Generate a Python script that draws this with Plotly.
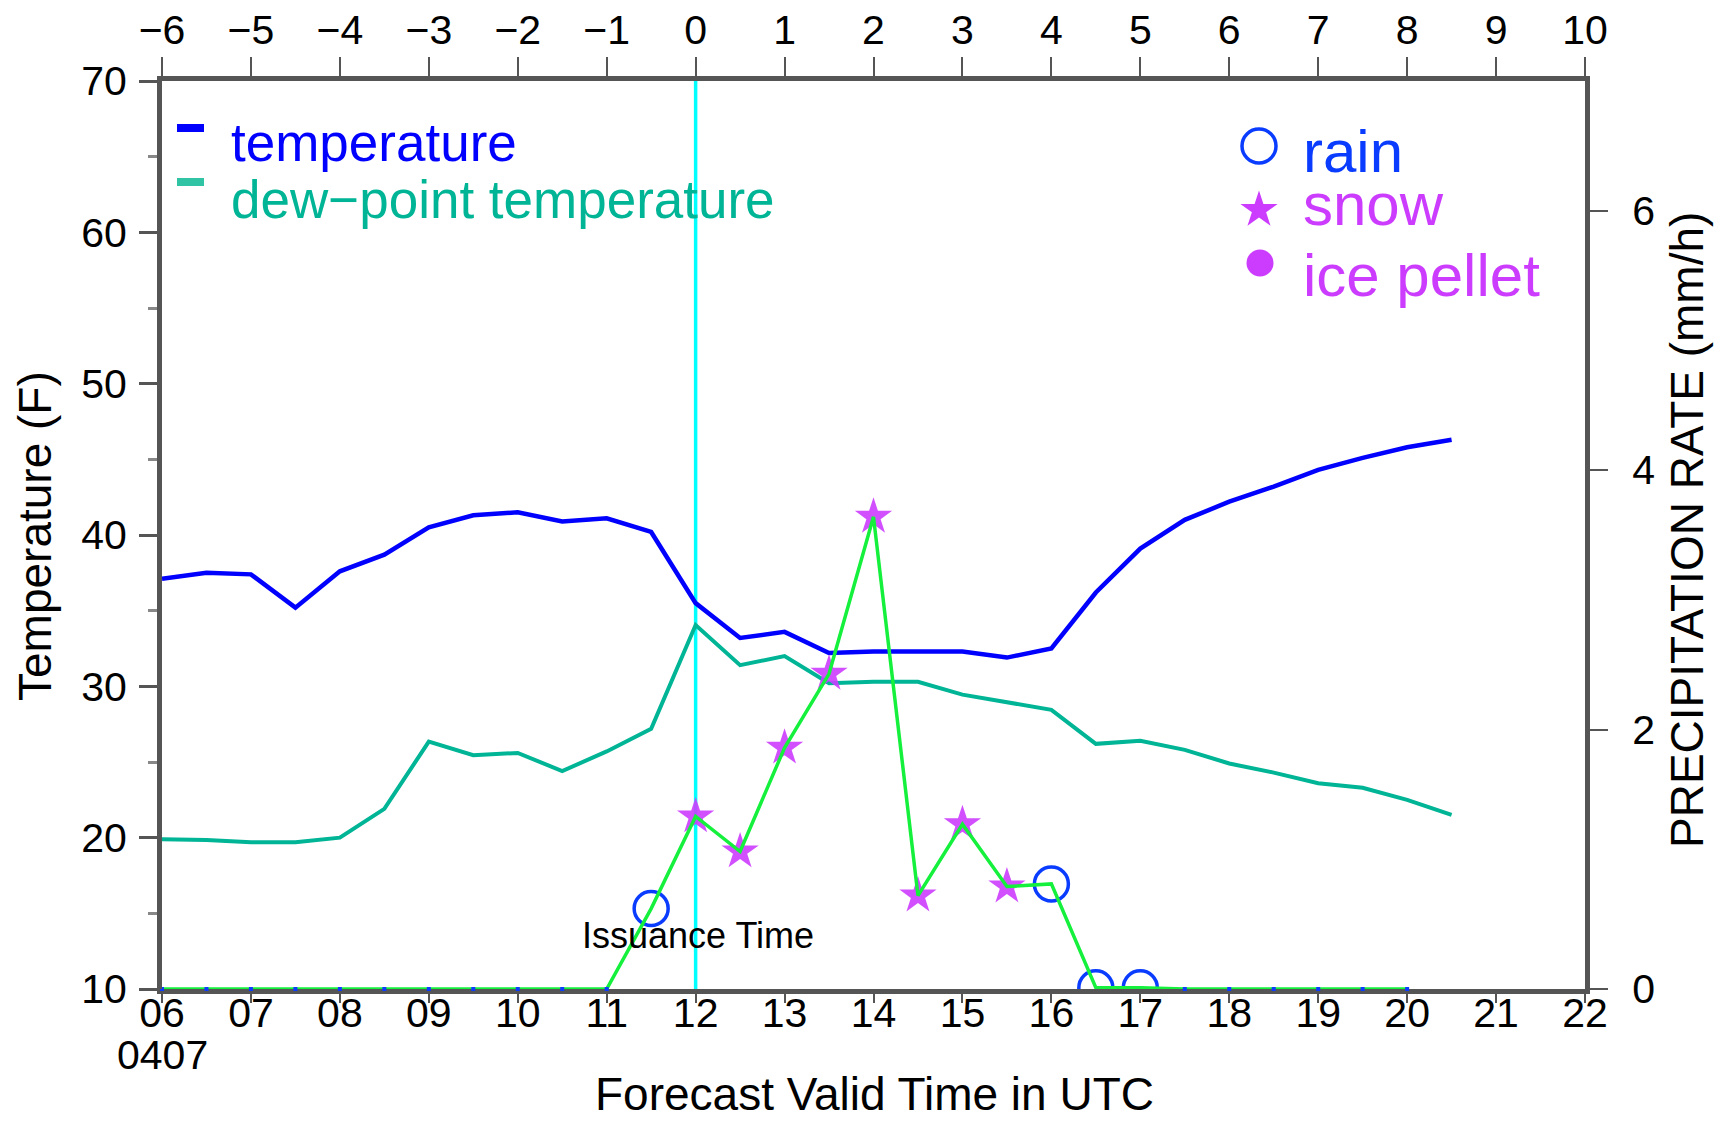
import plotly.graph_objects as go

# ---------------- data ----------------
hours = [6.0, 6.5, 7.0, 7.5, 8.0, 8.5, 9.0, 9.5, 10.0, 10.5, 11.0, 11.5, 12.0, 12.5,
         13.0, 13.5, 14.0, 14.5, 15.0, 15.5, 16.0, 16.5, 17.0, 17.5, 18.0, 18.5,
         19.0, 19.5, 20.0, 20.5]
temperature = [37.1, 37.5, 37.4, 35.2, 37.6, 38.7, 40.5, 41.3, 41.5, 40.9, 41.1, 40.2,
               35.5, 33.2, 33.6, 32.2, 32.3, 32.3, 32.3, 31.9, 32.5, 36.2, 39.1, 41.0,
               42.2, 43.2, 44.3, 45.1, 45.8, 46.3]
dewpoint = [19.9, 19.85, 19.7, 19.7, 20.0, 21.9, 26.35, 25.45, 25.6, 24.4, 25.7, 27.2,
            34.05, 31.4, 32.0, 30.2, 30.3, 30.3, 29.45, 28.95, 28.45, 26.2, 26.4, 25.8,
            24.9, 24.3, 23.6, 23.3, 22.5, 21.5]

precip_hours = [6.0, 6.5, 7.0, 7.5, 8.0, 8.5, 9.0, 9.5, 10.0, 10.5, 11.0, 11.5, 12.0,
                12.5, 13.0, 13.5, 14.0, 14.5, 15.0, 15.5, 16.0, 16.5, 17.0, 17.5, 18.0,
                18.5, 19.0, 19.5, 20.0]
precip_rate = [0, 0, 0, 0, 0, 0, 0, 0, 0, 0, 0, 0.62, 1.33, 1.06, 1.86, 2.43, 3.64,
               0.72, 1.27, 0.79, 0.81, 0.01, 0.01, 0, 0, 0, 0, 0, 0]
precip_type = ["none"] * 11 + ["rain", "snow", "snow", "snow", "snow", "snow", "snow",
                               "snow", "snow", "rain", "rain", "rain"] + ["none"] * 6

issuance_hour = 12
bottom_ticks = [6, 7, 8, 9, 10, 11, 12, 13, 14, 15, 16, 17, 18, 19, 20, 21, 22]
bottom_labels = ["06", "07", "08", "09", "10", "11", "12", "13", "14", "15", "16",
                 "17", "18", "19", "20", "21", "22"]
top_range = [-6, 10]
temp_ticks = [10, 20, 30, 40, 50, 60, 70]
rate_ticks = [0, 2, 4, 6]
rate_labels = ["0", "2", "4", "6"]
date_label = "0407"

# ---------------- style ----------------
FONT = "Liberation Sans, Arial, Helvetica, sans-serif"
BLUE = "#0000ff"
TEAL = "#00b496"
GREEN = "#14f03c"
RAIN = "#0a3cff"
SNOW = "#cc3cff"
AX = "#555555"

W, H = 1725, 1121
PL, PR, PT, PB = 162, 1585, 81, 989


def fx(px):
    return (px - PL) / (PR - PL)


def fy(py):
    return (PB - py) / (PB - PT)


fig = go.Figure()

fig.add_trace(go.Scatter(x=hours, y=temperature, mode="lines", name="temperature",
                         line=dict(color=BLUE, width=4.5), showlegend=False))
fig.add_trace(go.Scatter(x=hours, y=dewpoint, mode="lines", name="dew-point temperature",
                         line=dict(color=TEAL, width=4), showlegend=False))

rx = [h for h, t in zip(precip_hours, precip_type) if t == "rain"]
ry = [r for r, t in zip(precip_rate, precip_type) if t == "rain"]
sx = [h for h, t in zip(precip_hours, precip_type) if t == "snow"]
sy = [r for r, t in zip(precip_rate, precip_type) if t == "snow"]
zx = [h for h, t in zip(precip_hours, precip_type) if t == "none"]
zy = [r for r, t in zip(precip_rate, precip_type) if t == "none"]

fig.add_trace(go.Scatter(x=sx, y=sy, yaxis="y2", mode="markers", showlegend=False,
                         marker=dict(symbol="star", size=28, color=SNOW, opacity=0.9,
                                     line=dict(width=0))))
fig.add_trace(go.Scatter(x=rx, y=ry, yaxis="y2", mode="markers", showlegend=False,
                         marker=dict(symbol="circle-open", size=34, color=RAIN,
                                     line=dict(width=3.5, color=RAIN))))
fig.add_trace(go.Scatter(x=precip_hours, y=precip_rate, yaxis="y2", mode="lines",
                         showlegend=False, cliponaxis=False,
                         line=dict(color=GREEN, width=3.5)))
fig.add_trace(go.Scatter(x=zx, y=zy, yaxis="y2", mode="markers", showlegend=False,
                         cliponaxis=False,
                         marker=dict(symbol="square", size=4, color=RAIN)))

# dummy trace so the top axis is drawn
fig.add_trace(go.Scatter(x=top_range, y=[None, None], xaxis="x2", mode="lines",
                         showlegend=False, hoverinfo="skip"))

# legend symbols on a hidden overlay axis (plot fractions)
fig.add_trace(go.Scatter(x=[fx(1259)], y=[fy(146)], xaxis="x3", yaxis="y3",
                         mode="markers", showlegend=False, hoverinfo="skip",
                         cliponaxis=False,
                         marker=dict(symbol="circle-open", size=34, color=RAIN,
                                     line=dict(width=3.5, color=RAIN))))
fig.add_trace(go.Scatter(x=[fx(1259)], y=[fy(210)], xaxis="x3", yaxis="y3",
                         mode="markers", showlegend=False, hoverinfo="skip",
                         cliponaxis=False,
                         marker=dict(symbol="star", size=28, color=SNOW)))
fig.add_trace(go.Scatter(x=[fx(1260)], y=[fy(263)], xaxis="x3", yaxis="y3",
                         mode="markers", showlegend=False, hoverinfo="skip",
                         cliponaxis=False,
                         marker=dict(symbol="circle", size=27, color=SNOW)))

tickfont = dict(family=FONT, size=41, color="black")

fig.update_layout(
    width=W, height=H,
    margin=dict(l=PL, r=W - PR, t=PT, b=H - PB, pad=0, autoexpand=False),
    paper_bgcolor="white", plot_bgcolor="white",
    showlegend=False,
    font=dict(family=FONT, color="black"),
    xaxis=dict(range=[6, 22], tickvals=bottom_ticks, ticktext=bottom_labels,
               ticks="outside", ticklen=9, tickwidth=2, tickcolor=AX,
               showline=True, linewidth=5, linecolor=AX, showgrid=False,
               zeroline=False, tickfont=tickfont, layer="below traces",
               ticklabelstandoff=-25, automargin=False),
    xaxis2=dict(range=top_range, dtick=1, tick0=-6, overlaying="x", side="top",
                anchor="y", ticks="outside", ticklen=19, tickwidth=2, tickcolor=AX,
                showline=True, linewidth=5, linecolor=AX, showgrid=False,
                zeroline=False, tickfont=tickfont, ticklabelstandoff=-3,
                automargin=False),
    xaxis3=dict(range=[0, 1], overlaying="x", anchor="y3", visible=False,
                automargin=False),
    yaxis=dict(range=[10, 70], tickvals=temp_ticks, ticks="outside", ticklen=18,
               tickwidth=3, tickcolor=AX, showline=True, linewidth=5, linecolor=AX,
               showgrid=False, zeroline=False, tickfont=tickfont,
               ticklabelstandoff=4, automargin=False,
               minor=dict(dtick=5, tick0=10, ticks="outside", ticklen=9,
                          tickwidth=3, tickcolor="#888888", showgrid=False)),
    yaxis2=dict(range=[0, 7], tickvals=rate_ticks, ticktext=rate_labels,
                overlaying="y", side="right",
                anchor="x", ticks="outside", ticklen=18, tickwidth=2, tickcolor=AX,
                showline=True, linewidth=5, linecolor=AX, showgrid=False,
                zeroline=False, tickfont=tickfont, ticklabelstandoff=16,
                automargin=False),
    yaxis3=dict(range=[0, 1], overlaying="y", anchor="x3", visible=False,
                automargin=False),
)

# issuance time vertical line
fig.add_shape(type="line", xref="x", yref="paper", x0=issuance_hour, x1=issuance_hour,
              y0=0, y1=1, line=dict(color="#00ffff", width=3.5), layer="below")

# legend dashes
fig.add_shape(type="rect", xref="paper", yref="paper", x0=fx(177), x1=fx(204),
              y0=fy(132), y1=fy(124), fillcolor=BLUE, line=dict(width=0))
fig.add_shape(type="rect", xref="paper", yref="paper", x0=fx(177), x1=fx(204),
              y0=fy(186), y1=fy(178), fillcolor="#30c4a4", line=dict(width=0))

ann = []


def txt(text, px, py, size, color="black", xanchor="center", angle=0):
    ann.append(dict(text=text, x=fx(px), y=fy(py), xref="paper", yref="paper",
                    xanchor=xanchor, yanchor="middle", showarrow=False,
                    textangle=angle, font=dict(family=FONT, size=size, color=color)))


txt(date_label, 162, 1055, 41)
txt("Forecast Valid Time in UTC", 874, 1094, 46)
txt("Temperature (F)", 35, 536, 46, angle=-90)
txt("PRECIPITATION RATE (mm/h)", 1687, 530, 46, angle=-90)
txt("Issuance Time", 698, 935, 36)
txt("temperature", 229, 142, 53, BLUE, "left")
txt("dew\u2212point temperature", 229, 199, 53, TEAL, "left")
txt("rain", 1301, 151, 60, RAIN, "left")
txt("snow", 1301, 204, 60, SNOW, "left")
txt("ice pellet", 1301, 276, 60, SNOW, "left")
fig.update_layout(annotations=ann)

fig.write_html("out.html",
               config={"displayModeBar": False},
               post_script="document.body.style.margin='0';"
                           "document.body.style.overflow='hidden';")
